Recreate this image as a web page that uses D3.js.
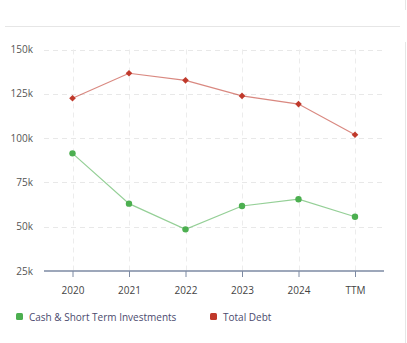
<!DOCTYPE html>
<html><head><meta charset="utf-8">
<script src="https://cdn.jsdelivr.net/npm/d3@7"></script>
<style>
html,body{margin:0;padding:0;background:#fff;}
svg{display:block;font-family:"Open Sans",Lato,sans-serif;}
</style></head>
<body><svg id="c" width="407" height="343"></svg>
<script>
const categories = ["2020","2021","2022","2023","2024","TTM"];
const cashValues = [91.4, 63.0, 48.5, 61.7, 65.5, 55.6];
const debtValues = [122.5, 136.6, 132.6, 123.8, 119.2, 101.9];
const yTicks = [25, 50, 75, 100, 125, 150];
const seriesNames = ["Cash & Short Term Investments", "Total Debt"];
const seriesColors = ["#4caf50", "#c0392b"];

const svg = d3.select("#c");
// top separator and right edge
svg.append("line").attr("x1",5).attr("x2",400).attr("y1",26.5).attr("y2",26.5).attr("stroke","#e6e6e6");
svg.append("line").attr("x1",405.5).attr("x2",405.5).attr("y1",0).attr("y2",10).attr("stroke","#e6e6e6");
svg.append("line").attr("x1",405.5).attr("x2",405.5).attr("y1",42).attr("y2",343).attr("stroke","#e6e6e6");

const x = d3.scalePoint().domain(categories).range([72.5, 355]);
const y = d3.scaleLinear().domain([25,150]).range([271, 49.5]);

const g = svg.append("g");
// horizontal grid
g.selectAll(".hg").data(yTicks.filter(t=>t>25)).enter().append("line")
  .attr("x1",44).attr("x2",384).attr("y1",d=>Math.round(y(d))+0.5).attr("y2",d=>Math.round(y(d))+0.5)
  .attr("stroke","#e8e8e8").attr("stroke-dasharray","5,4");
// vertical grid
g.selectAll(".vg").data(categories).enter().append("line")
  .attr("x1",d=>Math.round(x(d))+0.5).attr("x2",d=>Math.round(x(d))+0.5).attr("y1",49.5).attr("y2",271)
  .attr("stroke","#ececec").attr("stroke-dasharray","5,4");

// y labels
g.selectAll(".yl").data(yTicks).enter().append("text")
  .attr("x",33).attr("y",d=>y(d)).attr("dy","0.35em").attr("text-anchor","end")
  .attr("font-size",10).attr("fill","#555").text(d=>d+"k");

// x axis
const xa = svg.append("g").attr("transform","translate(0,271)")
  .call(d3.axisBottom(x).tickSize(6).tickPadding(10));
xa.select(".domain").remove();
xa.insert("line",":first-child").attr("x1",44).attr("x2",384).attr("y1",0).attr("y2",0).attr("stroke","#7d8aa3").attr("stroke-width",1.3);
xa.selectAll(".tick line").attr("stroke","#7d8aa3");
xa.selectAll(".tick text").attr("font-size",10).attr("fill","#444").attr("font-family","'Open Sans',Lato,sans-serif");

const line = d3.line().x((d,i)=>x(categories[i])).y(d=>y(d));
// lines
[cashValues, debtValues].forEach((vals,si)=>{
  svg.append("path").datum(vals).attr("d",line).attr("fill","none")
    .attr("stroke",seriesColors[si]).attr("stroke-opacity",0.6).attr("stroke-width",1.2);
});
// cash markers
svg.selectAll(".cm").data(cashValues).enter().append("circle")
  .attr("cx",(d,i)=>x(categories[i])).attr("cy",d=>y(d)).attr("r",3.2).attr("fill",seriesColors[0]);
// debt markers (rotated squares)
const sq = d3.symbol().type(d3.symbolSquare).size(22);
svg.selectAll(".dm").data(debtValues).enter().append("path")
  .attr("d",sq).attr("transform",(d,i)=>`translate(${x(categories[i])},${y(d)}) rotate(45)`).attr("fill",seriesColors[1]);

// legend
const legX = [16, 210];
seriesNames.forEach((n,i)=>{
  svg.append("rect").attr("x",legX[i]).attr("y",313).attr("width",7).attr("height",7).attr("rx",1.5).attr("fill",seriesColors[i]);
  svg.append("text").attr("x",legX[i]+13).attr("y",317).attr("dy","0.35em").attr("font-size",10)
    .attr("fill","#4b4a6e").text(n);
});
</script></body></html>
